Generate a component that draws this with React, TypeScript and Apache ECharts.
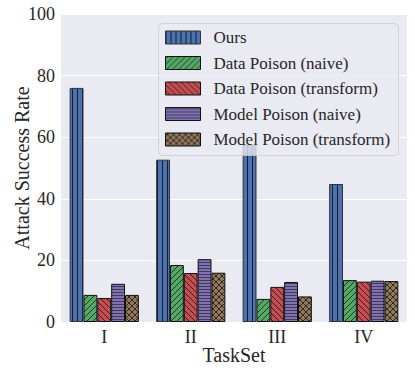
import React, { useEffect, useRef } from "react";
import * as echarts from "echarts";

const categories = ["I", "II", "III", "IV"];
const seriesNames = [
  "Ours",
  "Data Poison (naive)",
  "Data Poison (transform)",
  "Model Poison (naive)",
  "Model Poison (transform)",
];
const ours = [76.0, 52.7, 57.5, 44.8];
const dataNaive = [8.8, 18.5, 7.5, 13.6];
const dataTransform = [7.8, 15.9, 11.4, 13.1];
const modelNaive = [12.4, 20.4, 13.0, 13.4];
const modelTransform = [8.8, 16.0, 8.3, 13.3];
const yTicks = [0, 20, 40, 60, 80, 100];

const colors = ["#4C72B0", "#55A868", "#C44E52", "#8172B2", "#937860"];
const hatches = ["vert", "diag", "back", "horiz", "cross"];

function makePattern(color: string, kind: string) {
  const c = document.createElement("canvas");
  let w = 6, h = 6;
  if (kind === "vert") { w = 5; h = 5; }
  if (kind === "horiz") { w = 3; h = 3; }
  c.width = w; c.height = h;
  const ctx = c.getContext("2d")!;
  ctx.fillStyle = color;
  ctx.fillRect(0, 0, w, h);
  ctx.strokeStyle = "rgba(0,0,0,0.75)";
  ctx.lineWidth = 0.9;
  if (kind === "vert") {
    ctx.fillStyle = "rgba(0,0,0,0.75)";
    ctx.fillRect(2, 0, 1, h);
  } else if (kind === "horiz") {
    ctx.fillStyle = "rgba(0,0,0,0.5)";
    ctx.fillRect(0, 1, w, 1);
  } else {
    const drawSlash = () => {
      for (const off of [-w, 0, w]) {
        ctx.beginPath();
        ctx.moveTo(off, h);
        ctx.lineTo(off + w, 0);
        ctx.stroke();
      }
    };
    const drawBack = () => {
      for (const off of [-w, 0, w]) {
        ctx.beginPath();
        ctx.moveTo(off, 0);
        ctx.lineTo(off + w, h);
        ctx.stroke();
      }
    };
    if (kind === "diag") drawSlash();
    if (kind === "back") drawBack();
    if (kind === "cross") { drawSlash(); drawBack(); }
  }
  return { image: c, repeat: "repeat" } as any;
}

export default function App() {
  const ref = useRef<HTMLDivElement>(null);
  useEffect(() => {
    document.body.style.margin = "0";
    const chart = echarts.init(ref.current!, null, { renderer: "svg" });
    const data = [ours, dataNaive, dataTransform, modelNaive, modelTransform];
    const font = "Liberation Serif";
    const patterns = colors.map((c, i) => makePattern(c, hatches[i]));
    const rowH = 25.5;
    const legendChildren: any[] = [
      {
        type: "rect",
        z: 100,
        zlevel: 1,
        shape: { x: 0, y: 0, width: 240, height: 132, r: 4 },
        style: { fill: "rgba(234,234,242,0.8)", stroke: "rgba(204,204,204,0.8)", lineWidth: 1 },
      },
    ];
    seriesNames.forEach((n, i) => {
      legendChildren.push({
        type: "rect",
        z: 101,
        zlevel: 1,
        shape: { x: 7, y: 7.5 + i * rowH, width: 35, height: 13 },
        style: { fill: patterns[i], stroke: i === 0 ? "#333333" : "#111111", lineWidth: 1 },
      });
      legendChildren.push({
        type: "text",
        z: 101,
        zlevel: 1,
        x: 55,
        y: 14 + i * rowH,
        style: {
          text: n, fill: "#262626", fontFamily: font, fontSize: 17,
          verticalAlign: "middle", align: "left",
        },
      });
    });
    chart.setOption({
      animation: false,
      backgroundColor: "#ffffff",
      textStyle: { fontFamily: font },
      grid: {
        left: 61, right: 8, top: 14, bottom: 52,
        backgroundColor: "#EAEAF2", show: true, borderWidth: 0,
        containLabel: false, outerBoundsMode: "none",
      },
      graphic: [
        { type: "group", left: 158, top: 23, z: 100, zlevel: 1, children: legendChildren },
      ],
      xAxis: {
        type: "category",
        data: categories,
        axisLine: { show: false },
        axisTick: { show: false },
        axisLabel: { fontFamily: font, fontSize: 18, color: "#262626", margin: 6 },
        name: "TaskSet",
        nameLocation: "middle",
        nameGap: 23,
        nameMoveOverlap: false,
        nameTextStyle: { fontFamily: font, fontSize: 20, color: "#262626" },
      },
      yAxis: {
        type: "value",
        min: 0,
        max: 100,
        interval: 20,
        axisLine: { show: false },
        axisTick: { show: false },
        splitLine: { lineStyle: { color: "#ffffff", width: 1 } },
        axisLabel: {
          fontFamily: font, fontSize: 18, color: "#262626", margin: 6,
          formatter: (v: number) => (yTicks.includes(v) ? String(v) : ""),
        },
        name: "Attack Success Rate",
        nameLocation: "middle",
        nameGap: 29,
        nameMoveOverlap: false,
        nameTextStyle: { fontFamily: font, fontSize: 20, color: "#262626" },
      },
      series: data.map((d, i) => ({
        name: seriesNames[i],
        type: "bar",
        data: d,
        barWidth: "16%",
        barGap: "0%",
        itemStyle: {
          color: patterns[i],
          borderColor: i === 0 ? "#333333" : "#111111",
          borderWidth: 1,
        },
      })),
    });
    return () => chart.dispose();
  }, []);
  return <div ref={ref} style={{ position: "fixed", left: 0, top: 0, width: 415, height: 374 }} />;
}
